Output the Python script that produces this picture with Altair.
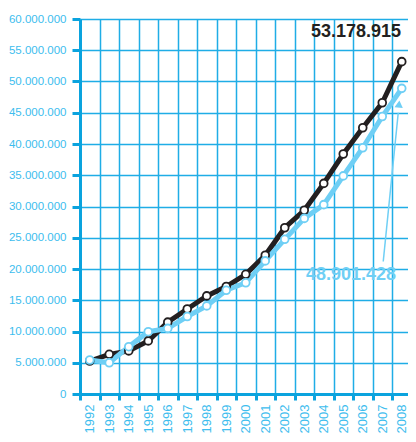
import altair as alt
import pandas as pd

years = list(range(1992, 2009))
total_m = [5.28, 6.35, 6.9, 8.5, 11.5, 13.6, 15.7, 17.2, 19.15, 22.2, 26.6, 29.4, 33.7, 38.4, 42.6, 46.6, 53.178915]
other_m = [5.44, 5.0, 7.57, 9.97, 10.5, 12.4, 14.1, 16.6, 17.8, 21.3, 24.75, 28.1, 30.3, 34.9, 39.4, 44.4, 48.901428]
y_ticks = [i * 5_000_000 for i in range(13)]
label_total = "53.178.915"
label_other = "48.901.428"

BLACK = "#231f20"
LBLUE = "#6fcff5"
GRID = "#1fade6"
AXIS = "#0aa3de"
LABEL = "#3dbdee"
FONT = "Liberation Sans"

df = pd.DataFrame({
    "year": years * 2,
    "value": [v * 1e6 for v in total_m] + [v * 1e6 for v in other_m],
    "series": ["total"] * len(years) + ["other"] * len(years),
})
df_total = df[df.series == "total"]
df_other = df[df.series == "other"]

x_enc = alt.X(
    "year:Q",
    scale=alt.Scale(domain=[1991.5, 2008.32], nice=False, zero=False),
    axis=alt.Axis(
        values=[y - 0.5 for y in years],
        labelExpr="format(datum.value + 0.5, 'd')",
        labelOffset=9.75,
        labelAngle=-90,
        labelOverlap=False,
        labelFlush=False,
        labelFont=FONT,
        labelFontSize=13,
        labelColor=LABEL,
        labelPadding=4,
        tickSize=6,
        tickWidth=3,
        tickColor=AXIS,
        domainColor=AXIS,
        domainWidth=3,
        grid=True,
        gridColor=GRID,
        gridWidth=1.5,
        title=None,
    ),
)
y_enc = alt.Y(
    "value:Q",
    scale=alt.Scale(domain=[0, 60_000_000], nice=False),
    axis=alt.Axis(
        values=y_ticks,
        labelExpr="replace(format(datum.value, ','), regexp(',', 'g'), '.')",
        labelFont=FONT,
        labelFontSize=11.5,
        labelColor=LABEL,
        labelPadding=6,
        tickSize=8,
        tickWidth=3,
        tickColor=AXIS,
        domainColor=AXIS,
        domainWidth=3,
        grid=True,
        gridColor=GRID,
        gridWidth=1.5,
        title=None,
    ),
)

line_total = alt.Chart(df_total).mark_line(color=BLACK, strokeWidth=5).encode(x=x_enc, y=y_enc)
line_other = alt.Chart(df_other).mark_line(color=LBLUE, strokeWidth=5).encode(x=x_enc, y=y_enc)
pts_total = alt.Chart(df_total).mark_point(
    shape="circle", filled=True, fill="white", stroke=BLACK, strokeWidth=1.8, size=60, opacity=1
).encode(x=x_enc, y=y_enc)
pts_other = alt.Chart(df_other).mark_point(
    shape="circle", filled=True, fill="white", stroke=LBLUE, strokeWidth=1.8, size=60, opacity=1
).encode(x=x_enc, y=y_enc)

ann = pd.DataFrame({
    "year": [2005.65, 2005.4],
    "value": [57.9e6, 19.0e6],
    "text": [label_total, label_other],
    "color": [BLACK, LBLUE],
})
texts = alt.Chart(ann).mark_text(
    font=FONT, fontWeight="bold", fontSize=18, baseline="middle", align="center"
).encode(x=x_enc, y=y_enc, text="text:N", color=alt.Color("color:N", scale=None))

arrow_df = pd.DataFrame({"year": [2007.05], "value": [21.2e6], "year2": [2007.82], "value2": [45.0e6]})
arrow_line = alt.Chart(arrow_df).mark_rule(color=LBLUE, strokeWidth=1.5).encode(
    x=x_enc, y=y_enc, x2="year2:Q", y2="value2:Q"
)
head_df = pd.DataFrame({"year": [2007.86], "value": [46.4e6]})
arrow_head = alt.Chart(head_df).mark_point(
    shape="triangle-up", filled=True, color=LBLUE, size=70, angle=6, opacity=1
).encode(x=x_enc, y=y_enc)

chart = alt.layer(
    line_total, line_other, pts_total, pts_other, arrow_line, arrow_head, texts
).properties(
    width=328,
    height=375,
    autosize=alt.AutoSizeParams(type="none"),
    padding={"left": 72, "top": 11, "right": 0, "bottom": 40},
).configure_view(stroke=None).configure(background="white")

chart.save("out.html", embed_options={"renderer": "svg", "actions": False})
